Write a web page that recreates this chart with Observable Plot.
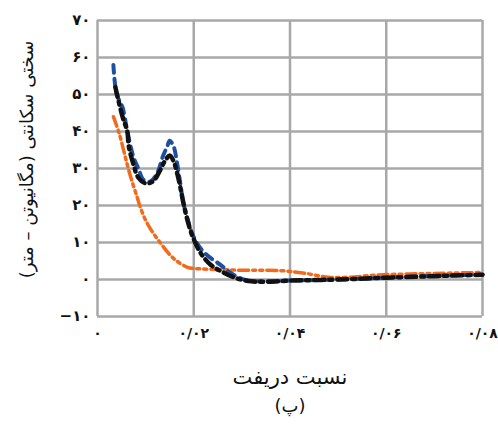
<!DOCTYPE html>
<html>
<head>
<meta charset="utf-8">
<script src="https://cdn.jsdelivr.net/npm/d3@7"></script>
<script src="https://cdn.jsdelivr.net/npm/@observablehq/plot@0.6"></script>
<style>
  html, body { margin: 0; padding: 0; background: #fff; }
  #chart { width: 498px; height: 395px; }
  #cap { width: 498px; box-sizing: border-box; padding-left: 82px; text-align: center;
         font-family: "DejaVu Sans", sans-serif; font-size: 18px; line-height: 22px; height: 36px; color: #111; }
</style>
</head>
<body>
<div id="chart"></div>
<div id="cap" dir="rtl">(پ)</div>
<script>
// Series: blue dashed
const driftBlue = [0.0033, 0.0040, 0.0052, 0.0062, 0.0075, 0.0085, 0.0095, 0.0110, 0.0125, 0.0135, 0.0145, 0.0150, 0.0158, 0.0166, 0.0172, 0.0178, 0.0188, 0.0198, 0.0220, 0.0255, 0.0280, 0.0310, 0.0350, 0.0400, 0.0500, 0.0600, 0.0700, 0.0800];
const stiffBlue = [58, 50, 46.5, 40, 33, 30, 27, 26.5, 29, 33, 36, 37.5, 36, 31, 26, 21, 16, 12, 7.5, 4, 1.5, -0.2, -0.5, -0.3, 0, 0.5, 1, 1.3];
// Series: black dash-dot
const driftBlack = [0.0037, 0.0052, 0.0062, 0.0065, 0.0075, 0.0085, 0.0100, 0.0115, 0.0130, 0.0140, 0.0150, 0.0158, 0.0165, 0.0172, 0.0178, 0.0187, 0.0198, 0.0215, 0.0235, 0.0260, 0.0290, 0.0320, 0.0350, 0.0400, 0.0500, 0.0600, 0.0700, 0.0800];
const stiffBlack = [52, 44, 40, 36, 31, 27.5, 26, 26.5, 29.5, 32, 33.5, 32, 29, 25, 21, 16, 11.5, 7, 4, 2, 0.3, -0.5, -0.6, -0.3, 0, 0.5, 0.9, 1.3];
// Series: orange dash-dot-dot
const driftOrange = [0.0033, 0.0045, 0.0058, 0.0065, 0.0073, 0.0083, 0.0089, 0.0104, 0.0130, 0.0158, 0.0187, 0.0200, 0.0250, 0.0300, 0.0380, 0.0430, 0.0480, 0.0520, 0.0580, 0.0650, 0.0720, 0.0800];
const stiffOrange = [44, 39.5, 33, 29.5, 26, 22, 19.5, 15, 10, 5.7, 3.3, 3, 2.7, 2.5, 2.4, 1.7, 0.6, 0.6, 1.2, 1.5, 1.7, 1.9];

// Ticks
const xTicks = [0, 0.02, 0.04, 0.06, 0.08];
const xTickLabels = ["۰", "۰/۰۲", "۰/۰۴", "۰/۰۶", "۰/۰۸"];
const yTicks = [-10, 0, 10, 20, 30, 40, 50, 60, 70];
const yTickLabels = ["−۱۰", "۰", "۱۰", "۲۰", "۳۰", "۴۰", "۵۰", "۶۰", "۷۰"];

const xTitle = "نسبت دریفت";
const yTitle = "سختی سکانتی (مگانیوتن – متر)";

const toRows = (xs, ys) => xs.map((x, i) => ({x, y: ys[i]}));
const blue = toRows(driftBlue, stiffBlue);
const black = toRows(driftBlack, stiffBlack);
const orange = toRows(driftOrange, stiffOrange);

const font = "DejaVu Sans, sans-serif";
const gridColor = "#a8a8a8";
const xFmt = d => xTickLabels[xTicks.indexOf(d)];
const yFmt = d => yTickLabels[yTicks.indexOf(d)];

const chart = Plot.plot({
  width: 498,
  height: 395,
  marginLeft: 97,
  marginRight: 16,
  marginTop: 20,
  marginBottom: 79,
  style: { fontFamily: font, background: "#fff", color: "#111" },
  x: { domain: [0, 0.08] },
  y: { domain: [-10, 70] },
  marks: [
    Plot.gridX(xTicks, { stroke: gridColor, strokeWidth: 2.5, strokeOpacity: 1 }),
    Plot.gridY(yTicks, { stroke: gridColor, strokeWidth: 2.5, strokeOpacity: 1 }),
    Plot.axisX(xTicks, { tickSize: 0, tickPadding: 12, fontSize: 14, fontWeight: "bold", label: null, tickFormat: xFmt }),
    Plot.axisY(yTicks, { tickSize: 0, tickPadding: 7, fontSize: 15, fontWeight: "bold", label: null, tickFormat: yFmt }),
    Plot.line(orange, { x: "x", y: "y", stroke: "#f26a1b", strokeWidth: 3.5, strokeDasharray: "10,4,3,4,3,4", curve: "catmull-rom" }),
    Plot.line(blue, { x: "x", y: "y", stroke: "#1f4fa3", strokeWidth: 4, strokeDasharray: "8,6", curve: "catmull-rom" }),
    Plot.line(black, { x: "x", y: "y", stroke: "#111", strokeWidth: 4.5, strokeDasharray: "10,5,3,5", curve: "catmull-rom" }),
    Plot.text([xTitle], { frameAnchor: "bottom", lineAnchor: "middle", dy: 61, fontSize: 21, className: "rtl-title" }),
    Plot.text([yTitle], { frameAnchor: "left", lineAnchor: "middle", dx: -70, dy: -9, rotate: -90, fontSize: 18, className: "rtl-title" })
  ]
});
document.getElementById("chart").appendChild(chart);
// center the right-to-left titles on their anchor point
d3.select(chart).selectAll(".rtl-title text").each(function () {
  this.setAttribute("direction", "rtl");
  this.setAttribute("text-anchor", "start");
  const b = this.getBBox();
  const cur = +(this.getAttribute("x") || 0);
  this.setAttribute("x", cur - (b.x + b.width / 2));
});
</script>
</body>
</html>
